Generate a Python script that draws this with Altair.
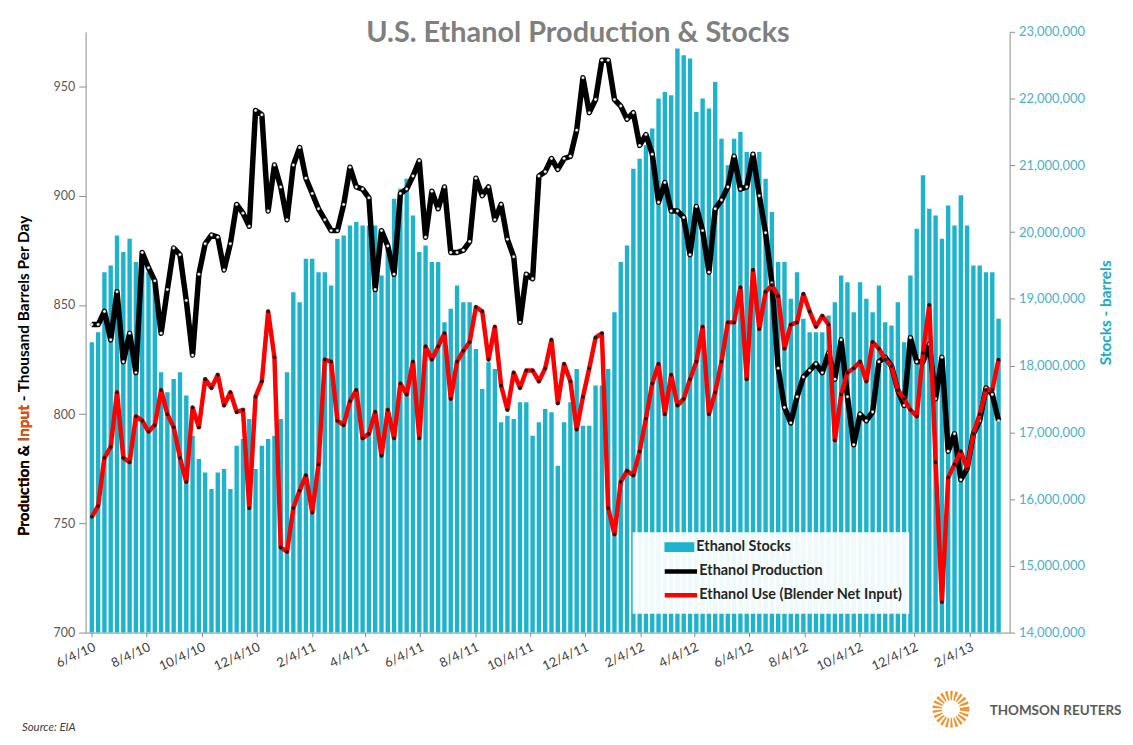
import altair as alt
import pandas as pd

# ---------------- data (weekly, EIA) ----------------
week_dates = pd.date_range("2010-06-04", periods=145, freq="7D").strftime("%Y-%m-%dT00:00:00").tolist()

# Ethanol production, thousand barrels per day
production = [
    841, 841, 847, 834, 856, 824, 837, 819, 874, 867,
    861, 837, 857, 876, 873, 852, 827, 864, 878, 882,
    881, 866, 878, 896, 892, 886, 939, 937, 893, 914,
    904, 889, 914, 922, 908, 901, 894, 889, 884, 884,
    896, 913, 904, 903, 899, 857, 884, 877, 864, 901,
    903, 909, 916, 881, 902, 894, 904, 874, 874, 875,
    879, 908, 900, 904, 889, 896, 880, 872, 842, 864,
    862, 909, 911, 917, 912, 917, 918, 930, 954, 938,
    944, 962, 962, 944, 941, 935, 938, 923, 928, 919,
    897, 906, 893, 893, 890, 873, 895, 884, 865, 894,
    898, 904, 918, 903, 904, 919, 900, 883, 860, 821,
    803, 796, 808, 817, 820, 823, 819, 828, 816, 834,
    808, 786, 800, 797, 801, 824, 826, 822, 811, 804,
    835, 824, 824, 832, 807, 826, 783, 791, 770, 775,
    791, 797, 812, 809, 797,
]

# Ethanol use (blender net input), thousand barrels per day
blender_input = [
    753, 758, 780, 785, 810, 780, 778, 799, 797, 792,
    795, 811, 800, 794, 780, 769, 803, 794, 816, 812,
    818, 804, 810, 801, 802, 757, 808, 815, 847, 826,
    739, 737, 757, 765, 772, 755, 777, 825, 824, 797,
    795, 806, 811, 789, 791, 801, 781, 802, 789, 814,
    809, 824, 789, 831, 825, 831, 837, 807, 824, 829,
    833, 849, 847, 825, 840, 813, 802, 819, 812, 820,
    820, 815, 821, 834, 805, 823, 815, 793, 808, 821,
    835, 837, 757, 745, 769, 774, 772, 783, 798, 814,
    823, 800, 818, 804, 807, 816, 824, 840, 800, 810,
    824, 842, 842, 858, 816, 866, 839, 856, 859, 854,
    830, 841, 842, 855, 847, 840, 845, 841, 788, 809,
    819, 821, 824, 815, 833, 830, 825, 822, 811, 807,
    802, 799, 828, 850, 778, 714, 771, 777, 783, 775,
    791, 800, 811, 811, 825,
]

# Ethanol stocks, million barrels
stocks_millions = [
    18.35, 18.5, 19.4, 19.5, 19.95, 19.7, 19.9, 19.55, 19.5, 19.4,
    19.2, 17.9, 17.6, 17.8, 17.9, 17.55, 16.95, 16.6, 16.4, 16.15,
    16.4, 16.45, 16.15, 16.8, 16.9, 17.2, 16.45, 16.8, 16.9, 16.95,
    17.2, 17.9, 19.1, 18.95, 19.6, 19.6, 19.4, 19.4, 19.2, 19.9,
    19.95, 20.1, 20.15, 20.1, 20.1, 20.1, 19.35, 19.8, 20.5, 20.65,
    20.8, 20.25, 19.7, 19.8, 19.55, 19.55, 18.65, 18.85, 19.2, 18.95,
    18.95, 18.25, 17.65, 18.05, 17.95, 17.15, 17.25, 17.2, 17.45, 17.45,
    16.95, 17.15, 17.35, 17.3, 16.5, 17.15, 17.45, 17.95, 17.1, 17.1,
    17.7, 17.7, 17.95, 18.8, 19.55, 19.8, 20.95, 21.1, 21.3, 21.55,
    22.0, 22.1, 22.05, 22.75, 22.65, 22.6, 21.8, 22.0, 21.85, 22.25,
    21.4, 21.0, 21.4, 21.5, 21.2, 21.2, 21.2, 20.8, 20.3, 19.55,
    19.55, 19.0, 19.4, 18.7, 18.5, 18.5, 18.5, 18.75, 18.95, 19.35,
    19.25, 18.8, 19.25, 19.0, 18.8, 19.2, 18.65, 18.6, 18.95, 18.35,
    19.35, 20.05, 20.85, 20.35, 20.25, 19.9, 20.4, 20.1, 20.55, 20.1,
    19.5, 19.5, 19.4, 19.4, 18.7,
]

left_ticks = [700, 750, 800, 850, 900, 950]
right_ticks = [14, 15, 16, 17, 18, 19, 20, 21, 22, 23]
tick_months = [(2010, 6), (2010, 8), (2010, 10), (2010, 12), (2011, 2), (2011, 4),
               (2011, 6), (2011, 8), (2011, 10), (2011, 12), (2012, 2), (2012, 4),
               (2012, 6), (2012, 8), (2012, 10), (2012, 12), (2013, 2)]

SERIES_STOCKS = "Ethanol Stocks"
SERIES_PROD = "Ethanol Production"
SERIES_USE = "Ethanol Use (Blender Net Input)"

# ---------------- styling ----------------
FONT = "Lato"
TEAL = "#1DB3CC"
AXIS_GREY = "#8C8C8C"
NBSP_PAD = "\u00a0" * 11

bars_df = pd.DataFrame({"date": week_dates, "stocks": stocks_millions, "series": SERIES_STOCKS})
lines_df = pd.concat([
    pd.DataFrame({"date": week_dates, "value": production, "series": SERIES_PROD}),
    pd.DataFrame({"date": week_dates, "value": blender_input, "series": SERIES_USE}),
], ignore_index=True)

x_enc = alt.X(
    "date:T",
    title=None,
    scale=alt.Scale(domain=[alt.DateTime(year=2010, month=6, date=2, hours=14),
                            alt.DateTime(year=2013, month=3, date=14, hours=18)]),
    axis=alt.Axis(
        values=[alt.DateTime(year=y, month=m, date=4) for (y, m) in tick_months],
        format="%-m/%-d/%y", labelAngle=335, labelAlign="right", labelBaseline="top",
        labelFont=FONT, labelFontSize=13, labelColor="#404040", labelPadding=4,
        tickSize=4, tickColor=AXIS_GREY, domainColor=AXIS_GREY, grid=False,
        labelOverlap=False, labelBound=False, labelFlush=False,
    ),
)

legend_common = dict(
    orient="none", legendX=550, symbolSize=900, symbolOffset=26, labelOffset=2,
    clipHeight=24, padding=6, rowPadding=0, labelFont=FONT, labelFontSize=14.5,
    labelFontWeight="bold", labelColor="#262626", labelLimit=500, direction="vertical",
)

bars = alt.Chart(bars_df).mark_bar(size=4.4).encode(
    x=x_enc,
    y=alt.Y(
        "stocks:Q",
        scale=alt.Scale(domain=[14, 23], nice=False, zero=False),
        axis=alt.Axis(
            orient="right", values=right_ticks,
            labelExpr="format(datum.value * 1000000, ',')",
            labelFont=FONT, labelFontSize=13, labelColor="#4BB0C8", labelPadding=4,
            tickSize=5, tickColor=AXIS_GREY, domainColor=AXIS_GREY, grid=False,
            title="Stocks - barrels", titleFont=FONT, titleFontSize=15.5,
            titleFontWeight="bold", titleColor="#1EA9C2", titleAngle=270,
            titleAlign="center", titleBaseline="top", titleY=282, titlePadding=14,
        ),
    ),
    y2=alt.datum(14),
    fill=alt.Fill(
        "series:N",
        scale=alt.Scale(domain=[SERIES_STOCKS], range=[TEAL]),
        legend=alt.Legend(title=None, legendY=500, symbolType="M-1,-0.33H1V0.33H-1Z",
                          symbolStrokeWidth=0, zindex=2, **legend_common),
    ),
)

y_left = alt.Y(
    "value:Q",
    scale=alt.Scale(domain=[700, 975], nice=False, zero=False),
    axis=alt.Axis(
        orient="left", values=left_ticks, title=None,
        labelFont=FONT, labelFontSize=12.5, labelColor="#595959", labelPadding=4,
        tickSize=7, tickColor=AXIS_GREY, domainColor=AXIS_GREY, grid=False,
    ),
)

stroke_enc = alt.Stroke(
    "series:N",
    scale=alt.Scale(domain=[SERIES_PROD, SERIES_USE], range=["#000000", "#FF0000"]),
    legend=alt.Legend(title=" ", titleFontSize=13, titlePadding=8.5, legendY=503,
                      symbolType="M-1,-0.07H1V0.07H-1Z", symbolStrokeWidth=2.5,
                      labelExpr="datum.label + '" + NBSP_PAD + "'",
                      fillColor="rgba(255,255,255,0.93)", zindex=1, **legend_common),
)

base_lines = alt.Chart(lines_df)
prod_line = base_lines.transform_filter(alt.datum.series == SERIES_PROD).mark_line(
    strokeWidth=5.5, strokeJoin="round").encode(x=x_enc, y=y_left, stroke=stroke_enc)
prod_pts = base_lines.transform_filter(alt.datum.series == SERIES_PROD).mark_circle(
    size=9, color="#FFFFFF", opacity=1, stroke="#555555", strokeWidth=0.4).encode(x=x_enc, y=y_left)
use_line = base_lines.transform_filter(alt.datum.series == SERIES_USE).mark_line(
    strokeWidth=4.5, strokeJoin="round").encode(x=x_enc, y=y_left, stroke=stroke_enc)
use_pts = base_lines.transform_filter(alt.datum.series == SERIES_USE).mark_circle(
    size=14, color="#1A1A1A", opacity=1).encode(x=x_enc, y=y_left)

lines_group = alt.layer(prod_line, prod_pts, use_line, use_pts)


def note(label, x, y, **kw):
    return alt.Chart(pd.DataFrame({"label": [label]})).mark_text(font=FONT, **kw).encode(
        x=alt.value(x), y=alt.value(y), text="label:N")


title_t = note("U.S. Ethanol Production & Stocks", 495, 10, fontSize=29, fontWeight="bold",
               color="#7F7F7F", align="center", baseline="alphabetic")
ytitle_kw = dict(angle=270, align="left", baseline="middle", fontSize=15.5, fontWeight="bold")
ytitle_full = note("Production & Input - Thousand Barrels Per Day", -62, 507, color="#000000", **ytitle_kw)
ytitle_orange = note("Production & Input", -62, 507, color="#E8540C", **ytitle_kw)
ytitle_prefix = note("Production & ", -62, 507, color="#000000", **ytitle_kw)
source_t = note("Source: EIA", -64, 700, fontSize=11.5, fontStyle="italic", color="#404040",
                align="left", baseline="middle")
logo_ring = alt.Chart(pd.DataFrame({"label": ["logo"]})).mark_point(
    shape="circle", filled=False, size=760, strokeWidth=9.5, strokeDash=[2, 2],
    color="#F0922B", opacity=1).encode(x=alt.value(870), y=alt.value(681))
tr_text = note("THOMSON REUTERS", 909, 683, fontSize=13.5, fontWeight="bold", color="#5A5A5A",
               align="left", baseline="middle")

chart = alt.layer(
    bars, lines_group, title_t, ytitle_full, ytitle_orange, ytitle_prefix,
    source_t, logo_ring, tr_text,
).resolve_scale(y="independent").properties(
    width=929, height=604,
    autosize=alt.AutoSizeParams(type="none"),
    padding={"left": 78, "top": 22, "right": 116, "bottom": 100},
    background="white",
).configure_view(stroke=None)

chart.save("out.html", embed_options={"renderer": "svg", "actions": False})
